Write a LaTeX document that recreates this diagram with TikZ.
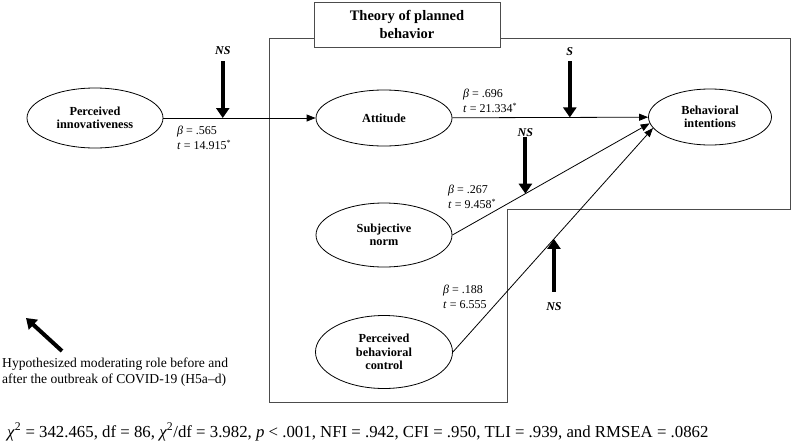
\documentclass[tikz,border=0pt]{standalone}
\usepackage{fontspec}
\setmainfont{Liberation Serif}
\usetikzlibrary{arrows.meta,shapes.geometric}
\tikzset{
  construct/.style={draw=black, line width=0.8pt, ellipse, inner sep=0pt, align=center,
    font=\fontsize{12.3}{13.3}\selectfont\bfseries},
  path/.style={draw=black, line width=0.8pt, -{Triangle[length=9pt,width=7pt]}},
  modarrow/.style={line width=4pt, -{Triangle[length=10pt,width=13pt]}},
  coef/.style={font=\fontsize{12}{15}\selectfont, align=left, anchor=west, inner sep=0pt},
  modlabel/.style={font=\fontsize{12}{14}\selectfont\bfseries\itshape, inner sep=0pt},
  outline/.style={draw=black!70, line width=1pt},
}
\begin{document}
\begin{tikzpicture}[x=1pt,y=-1pt]
\useasboundingbox (0,0) rectangle (794,442);
% theory of planned behavior outline
\draw[outline] (314,38) -- (269,38) -- (269,402) -- (507,402) -- (507,209) -- (790,209) -- (790,38) -- (500,38);
\node[draw=black!70, line width=1pt, fill=white, minimum width=186pt, minimum height=45pt, inner sep=0pt,
  align=center, font=\fontsize{14.5}{18}\selectfont\bfseries] (tpb) at (407,24.5) {Theory of planned\\behavior};
% constructs
\node[construct, minimum width=136pt, minimum height=60pt] (pi) at (95,118) {Perceived\\innovativeness};
\node[construct, minimum width=136pt, minimum height=56pt] (att) at (384,118) {Attitude};
\node[construct, minimum width=123pt, minimum height=56pt] (bi) at (710,117) {Behavioral\\intentions};
\node[construct, minimum width=136pt, minimum height=64pt] (sn) at (384,235) {Subjective\\norm};
\node[construct, minimum width=137pt, minimum height=73pt] (pbc) at (384,352) {Perceived\\behavioral\\control};
% paths
\draw[path] (pi) -- coordinate[pos=0.39] (m1) (att);
\draw[path] (att) -- coordinate[pos=0.60] (m2) (bi);
\draw[path] (sn.east) -- coordinate[pos=0.37] (m3) (bi.186);
\draw[path] (pbc.east) -- coordinate[pos=0.505] (m4) (bi.191);
% moderators
\draw[modarrow] ([yshift=57pt]m1) -- (m1);
\draw[modarrow] ([yshift=56pt]m2) -- (m2);
\draw[modarrow] ([yshift=57pt]m3) -- (m3);
\draw[modarrow] ([yshift=-53pt]m4) -- (m4);
\node[modlabel] (ns1) at ([yshift=67pt]m1) {NS};
\node[modlabel] (s1) at ([yshift=66pt]m2) {S};
\node[modlabel] (ns2) at ([yshift=61pt]m3) {NS};
\node[modlabel] (ns3) at ([yshift=-68pt]m4) {NS};
% coefficients
\node[coef] (c1) at (177,138) {\textit{β} = .565\\\textit{t} = 14.915\textsuperscript{*}};
\node[coef] (c2) at (463,101) {\textit{β} = .696\\\textit{t} = 21.334\textsuperscript{*}};
\node[coef] (c3) at (448,197) {\textit{β} = .267\\\textit{t} = 9.458\textsuperscript{*}};
\node[coef] (c4) at (443,297) {\textit{β} = .188\\\textit{t} = 6.555};
% legend
\coordinate (lgtail) at (62,351);
\coordinate (lghead) at (26,318);
\draw[modarrow] (lgtail) -- (lghead);
\node[font=\fontsize{13.6}{16}\selectfont, align=left, anchor=west, inner sep=0pt] (lg) at (2,372)
  {Hypothesized moderating role before and\\after the outbreak of COVID-19 (H5a–d)};
% fit indices
\node[font=\fontsize{16.8}{19}\selectfont, anchor=west, inner sep=0pt] (fit) at (7,432)
  {\textit{χ}\textsuperscript{2} = 342.465, df = 86, \textit{χ}\textsuperscript{2}/df = 3.982, \textit{p} < .001, NFI = .942, CFI = .950, TLI = .939, and RMSEA = .0862};
\end{tikzpicture}
\end{document}
